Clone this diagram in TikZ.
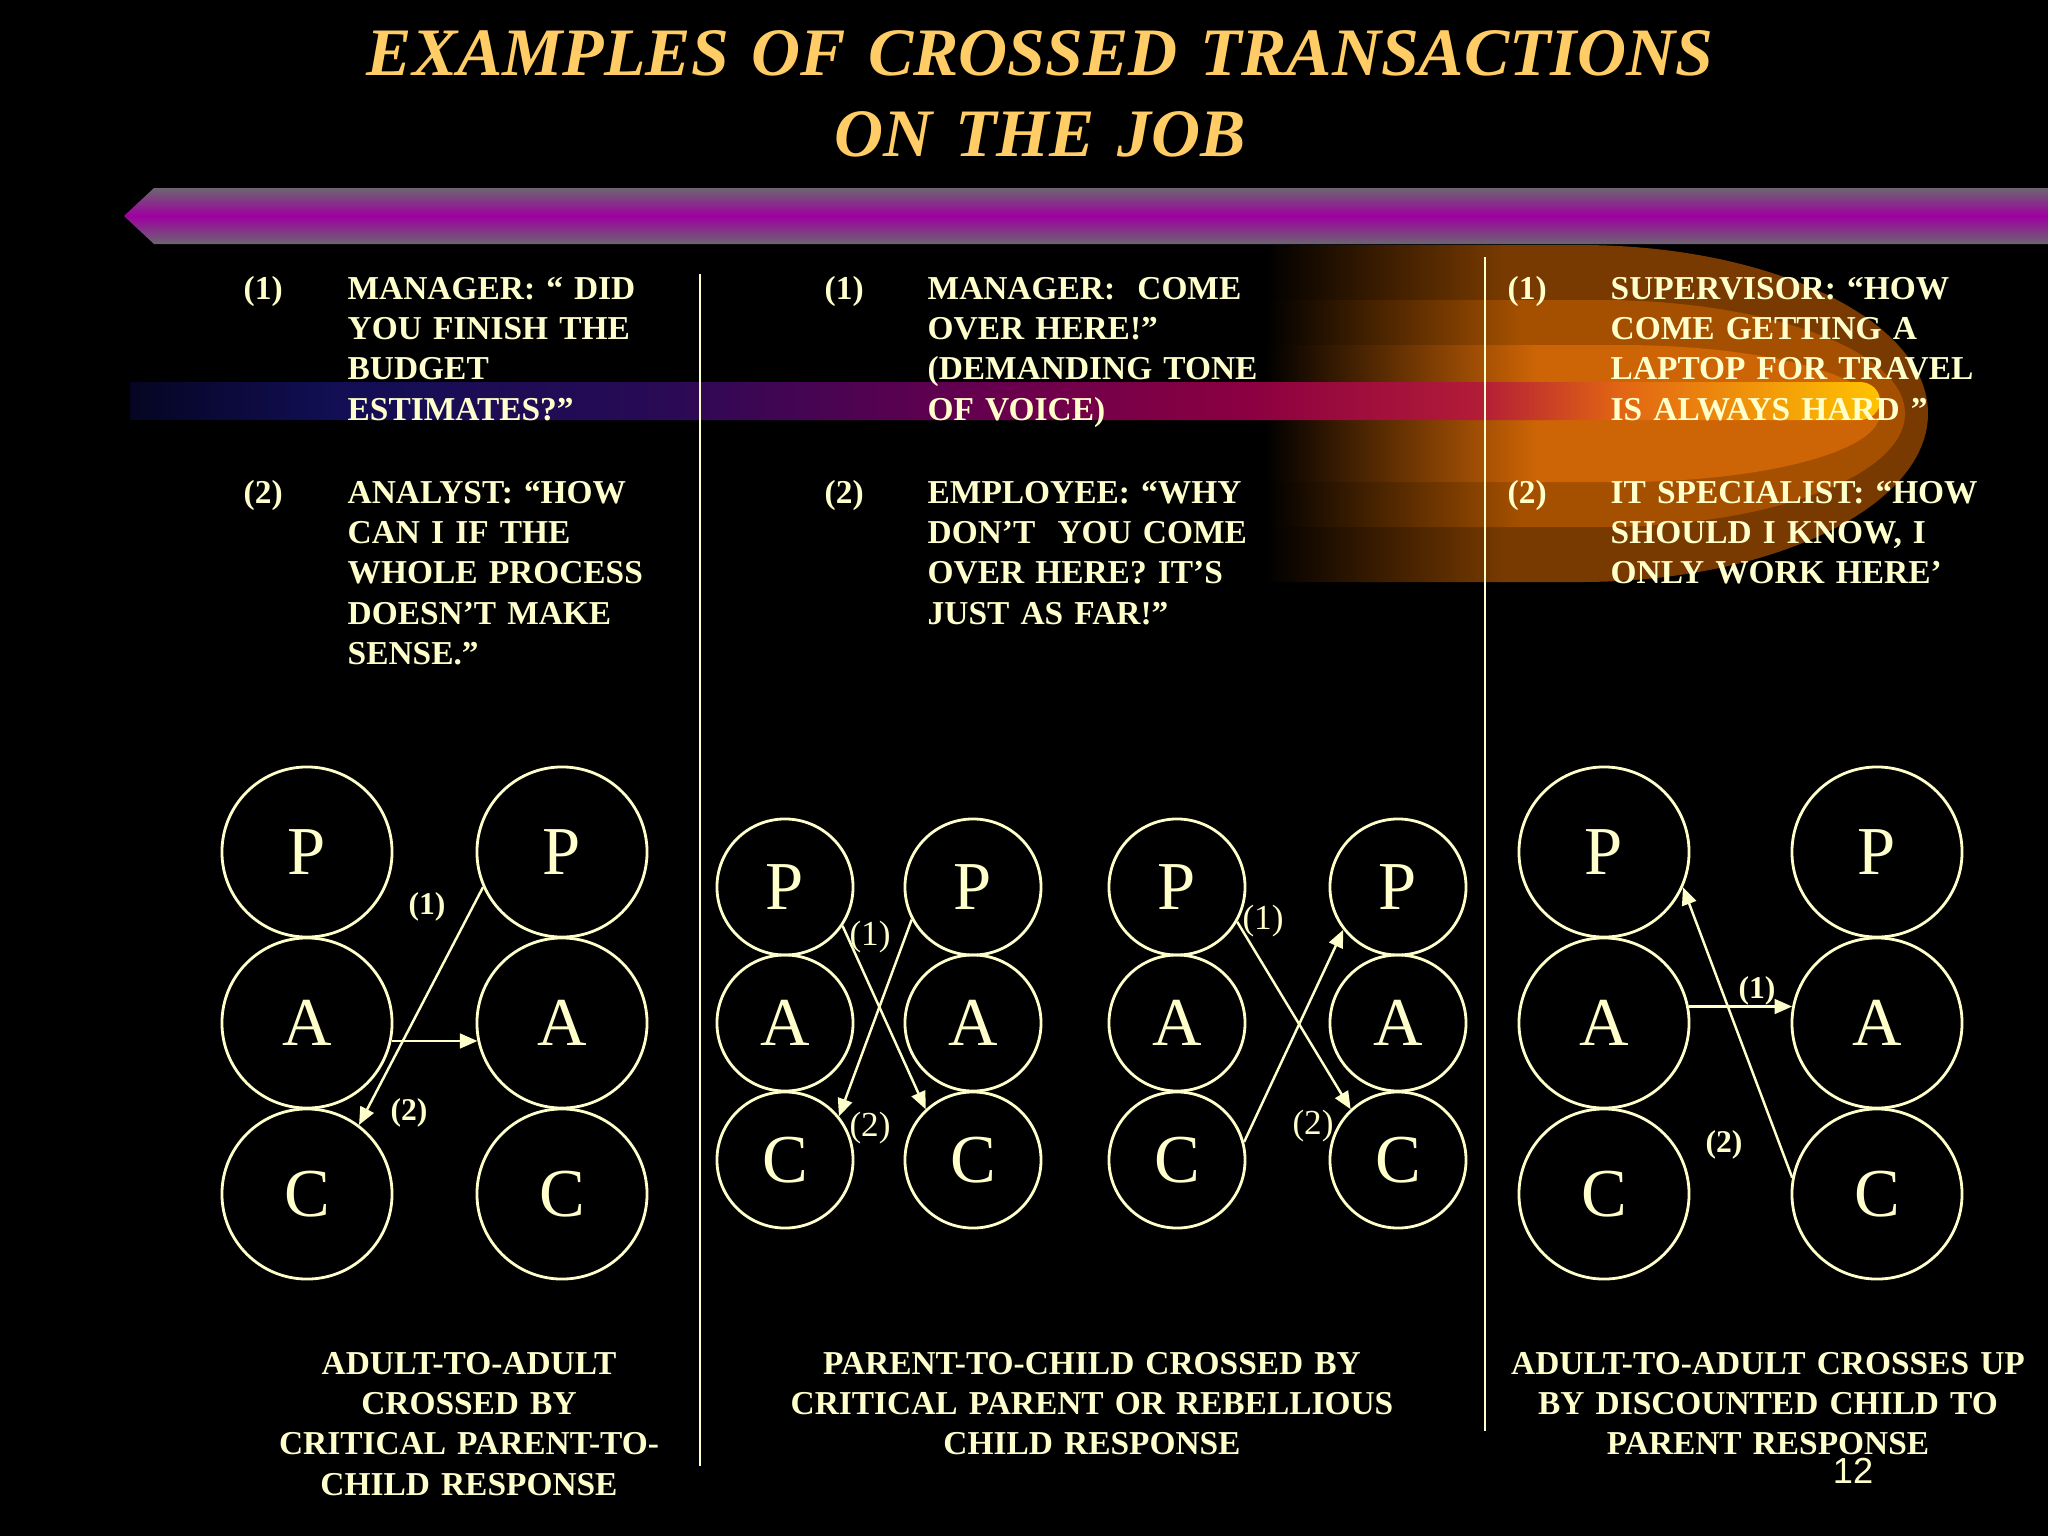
\documentclass[tikz,border=0pt]{standalone}
\usepackage{fontspec}
\setmainfont{Liberation Serif}
\newfontfamily\arialfont{Liberation Sans}
\usetikzlibrary{arrows.meta}

\definecolor{txtyellow}{RGB}{255,255,204}
\definecolor{titlegold}{RGB}{255,204,102}
\definecolor{bargray}{RGB}{108,102,112}
\definecolor{barmagenta}{RGB}{158,0,160}
\definecolor{glowA}{RGB}{120,58,0}
\definecolor{glowB}{RGB}{165,80,0}
\definecolor{glowC}{RGB}{205,100,5}
\definecolor{bandA}{RGB}{5,5,35}
\definecolor{bandB}{RGB}{18,15,85}
\definecolor{bandC}{RGB}{40,10,85}
\definecolor{bandD}{RGB}{95,0,80}
\definecolor{bandE}{RGB}{140,0,65}
\definecolor{bandF}{RGB}{178,28,55}
\definecolor{bandG}{RGB}{225,100,20}
\definecolor{bandH}{RGB}{255,195,0}

\newcommand{\titlefont}{\fontsize{19.3pt}{23.3pt}\selectfont\bfseries\itshape}
\newcommand{\bodyfont}{\fontsize{9.5pt}{11.5pt}\selectfont\bfseries}
\newcommand{\pacfont}{\fontsize{19.5pt}{20pt}\selectfont}
\newcommand{\tagfont}{\fontsize{9pt}{10pt}\selectfont\bfseries}
\newcommand{\tagthinfont}{\fontsize{10pt}{11pt}\selectfont}
\newcommand{\pagefont}{\arialfont\fontsize{10.3pt}{12pt}\selectfont}

% glow layers, black on the left
\pgfdeclarehorizontalshading{glowouter}{100bp}{color(0bp)=(black); color(25bp)=(black); color(43bp)=(glowA); color(100bp)=(glowA)}
\pgfdeclarehorizontalshading{glowmiddle}{100bp}{color(0bp)=(black); color(25bp)=(black); color(45bp)=(glowB); color(100bp)=(glowB)}
\pgfdeclarehorizontalshading{glowinner}{100bp}{color(0bp)=(black); color(25bp)=(black); color(47bp)=(glowC); color(100bp)=(glowC)}
\pgfdeclarehorizontalshading{bandshade}{100bp}{color(0bp)=(bandA); color(25bp)=(bandA); color(31bp)=(bandB); color(40bp)=(bandC); color(48bp)=(bandD); color(57bp)=(bandE); color(63.5bp)=(bandF); color(67.5bp)=(bandG); color(75bp)=(bandH); color(100bp)=(bandH)}

\begin{document}
\begin{tikzpicture}
    [
        x = 0.01cm, y = -0.01cm,
        pac/.style = {circle, draw = txtyellow, line width = 0.8pt, inner sep = 0pt,
                minimum size = 1.7cm, text = txtyellow, font = \pacfont},
        pacsmall/.style = {pac, minimum size = 1.36cm},
        flow/.style = {draw = txtyellow, line width = 0.7pt,
                -{Triangle[length = 5pt, width = 4.2pt]}},
        numlabel/.style = {anchor = base west, inner sep = 0pt, text = txtyellow, font = \bodyfont},
        talk/.style = {anchor = base west, inner sep = 0pt, text = txtyellow, font = \bodyfont,
                text width = 4.2cm, align = left},
        capt/.style = {anchor = base, inner sep = 0pt, text = txtyellow, font = \bodyfont,
                text width = 6.4cm, align = center},
        arrowtag/.style = {inner sep = 0pt, text = txtyellow, font = \tagfont},
        arrowtagthin/.style = {arrowtag, font = \tagthinfont},
    ]

    % background
    \fill[black] (0,0) rectangle (2048,1536);
    \useasboundingbox (0,0) rectangle (2048,1536);

    \shade[shading = glowouter] (1265,245) -- (1580,245)
        arc[start angle = -90, end angle = 90, x radius = 348, y radius = 168.5]
        -- (1265,582) -- cycle;
    \shade[shading = glowmiddle] (1265,300) -- (1600,300)
        arc[start angle = -90, end angle = 90, x radius = 305, y radius = 113.5]
        -- (1265,527) -- cycle;
    \shade[shading = glowinner] (1265,345) -- (1620,345)
        arc[start angle = -90, end angle = 90, x radius = 260, y radius = 68.5]
        -- (1265,482) -- cycle;
    \shade[shading = bandshade] (130,382) -- (1860,382)
        arc[start angle = -90, end angle = 90, x radius = 20, y radius = 19]
        -- (130,420) -- cycle;

    \shade[top color = bargray, bottom color = bargray, middle color = barmagenta]
        (124,216) -- (154,188) -- (2048,188) -- (2048,244) -- (154,244) -- cycle;

    \node[anchor = base, inner sep = 0pt, text width = 16cm, align = center,
        text = titlegold, font = \titlefont] (title) at (1040,75)
        {EXAMPLES OF CROSSED TRANSACTIONS\\ON THE JOB};

    \draw[txtyellow, line width = 0.6pt] (700,274) -- (700,1466);
    \draw[txtyellow, line width = 0.6pt] (1485,257) -- (1485,1431);

    % the exchanges
    \node[numlabel] (n1a) at (243,299) {(1)};
    \node[talk] (q1a) at (347,299) {MANAGER: “ DID\\YOU FINISH THE\\BUDGET\\ESTIMATES?”};
    \node[numlabel] (n1b) at (243,503) {(2)};
    \node[talk] (q1b) at (347,503) {ANALYST: “HOW\\CAN I IF THE\\WHOLE PROCESS\\DOESN’T MAKE\\SENSE.”};

    \node[numlabel] (n2a) at (824,299) {(1)};
    \node[talk] (q2a) at (927,299) {MANAGER:\ \ COME\\OVER HERE!”\\(DEMANDING TONE\\OF VOICE)};
    \node[numlabel] (n2b) at (824,503) {(2)};
    \node[talk] (q2b) at (927,503) {EMPLOYEE: “WHY\\DON’T\ \ YOU COME\\OVER HERE? IT’S\\JUST AS FAR!”};

    \node[numlabel] (n3a) at (1507,299) {(1)};
    \node[talk] (q3a) at (1610,299) {SUPERVISOR: “HOW\\COME GETTING A\\LAPTOP FOR TRAVEL\\IS ALWAYS HARD ”};
    \node[numlabel] (n3b) at (1507,503) {(2)};
    \node[talk] (q3b) at (1610,503) {IT SPECIALIST: “HOW\\SHOULD I KNOW, I\\ONLY WORK HERE’};

    % ego states
    \foreach \k/\cx in {1/307, 2/562, 7/1604, 8/1877}{
            \node[pac] (p\k) at (\cx,852) {P};
            \node[pac] (a\k) at (\cx,1023) {A};
            \node[pac] (c\k) at (\cx,1194) {C};
        }
    \foreach \k/\cx in {3/785, 4/973, 5/1177, 6/1398}{
            \node[pacsmall] (p\k) at (\cx,887) {P};
            \node[pacsmall] (a\k) at (\cx,1023) {A};
            \node[pacsmall] (c\k) at (\cx,1160) {C};
        }

    \draw[flow] (a1.-12) -- (a2.192);
    \draw[flow] (p2.204) -- (c1.53);
    \node[arrowtag] (t1a) at (427,907) {(1)};
    \node[arrowtag] (t1b) at (409,1113) {(2)};

    \draw[flow] (p3.-34) -- (c4.133);
    \draw[flow] (p4.208) -- (c3.39);
    \node[arrowtagthin] (t2a) at (870,937) {(1)};
    \node[arrowtagthin] (t2b) at (870,1128) {(2)};

    \draw[flow] (p5.-30) -- (c6.133);
    \draw[flow] (c5.15) -- (p6.218);
    \node[arrowtagthin] (t3a) at (1263,921) {(1)};
    \node[arrowtagthin] (t3b) at (1313,1126) {(2)};

    \draw[flow] (a7.11) -- (a8.169);
    \draw[flow] (c8.169) -- (p7.-24);
    \node[arrowtag] (t4a) at (1757,991) {(1)};
    \node[arrowtag] (t4b) at (1724,1145) {(2)};

    % captions
    \node[capt] (cap1) at (469,1374) {ADULT-TO-ADULT\\CROSSED BY\\CRITICAL PARENT-TO-\\CHILD RESPONSE};
    \node[capt] (cap2) at (1092,1374) {PARENT-TO-CHILD CROSSED BY\\CRITICAL PARENT OR REBELLIOUS\\CHILD RESPONSE};
    \node[capt] (cap3) at (1768,1374) {ADULT-TO-ADULT CROSSES UP\\BY DISCOUNTED CHILD TO\\PARENT RESPONSE};

    \node[anchor = base, inner sep = 0pt, text = txtyellow, font = \pagefont] (pageno) at (1853,1483) {12};

\end{tikzpicture}
\end{document}
